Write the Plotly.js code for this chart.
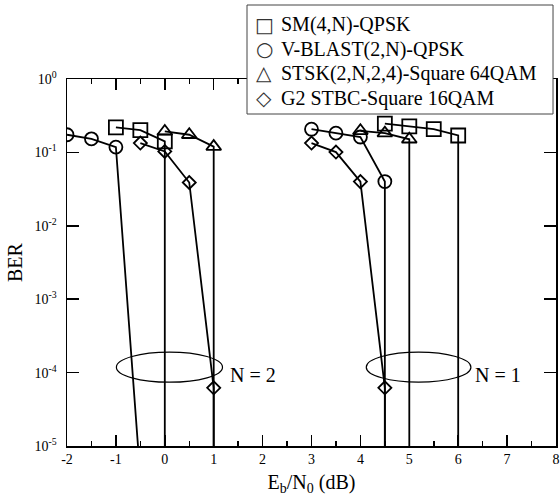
<!DOCTYPE html>
<html>
<head>
<meta charset="utf-8">
<script src="https://cdn.plot.ly/plotly-3.0.1.min.js"></script>
<style>html,body{margin:0;padding:0;background:#fff;}#chart{width:560px;height:500px;}</style>
</head>
<body>
<div id="chart"></div>
<script>
// Series names
const seriesNames = ['SM(4,N)-QPSK', 'V-BLAST(2,N)-QPSK', 'STSK(2,N,2,4)-Square 64QAM', 'G2 STBC-Square 16QAM'];
const legendGlyphs = ['\u25A1', '\u25CB', '\u25B3', '\u25C7'];

// N = 2 group
const smN2X = [-1, -0.5, 0, 0];
const smN2Y = [0.219, 0.201, 0.141, 1e-6];
const blastN2X = [-2, -1.5, -1, -0.5];
const blastN2Y = [0.174, 0.153, 0.118, 3.7e-6];
const stskN2X = [0, 0.5, 1, 1];
const stskN2Y = [0.193, 0.174, 0.12, 1e-6];
const g2N2X = [-0.5, 0, 0.5, 1, 1];
const g2N2Y = [0.134, 0.103, 0.0389, 6.2e-5, 1e-6];

// N = 1 group
const smN1X = [4.5, 5, 5.5, 6, 6];
const smN1Y = [0.246, 0.226, 0.207, 0.17, 1e-6];
const blastN1X = [3, 3.5, 4, 4.5, 4.5];
const blastN1Y = [0.207, 0.183, 0.162, 0.0401, 1e-6];
const stskN1X = [4, 4.5, 5, 5];
const stskN1Y = [0.197, 0.183, 0.151, 1e-6];
const g2N1X = [3, 3.5, 4, 4.5, 4.5];
const g2N1Y = [0.134, 0.101, 0.040, 6.2e-5, 1e-6];

// Ticks
const xTickVals = [-2, -1, 0, 1, 2, 3, 4, 5, 6, 7, 8];
const xTickText = ['-2', '-1', '0', '1', '2', '3', '4', '5', '6', '7', '8'];
const xMinorVals = [-1.5, -0.5, 0.5, 1.5, 2.5, 3.5, 4.5, 5.5, 6.5, 7.5];
const yTickVals = [1e-5, 1e-4, 1e-3, 1e-2, 1e-1, 1];
const yTickText = ['10<sup>-5</sup>', '10<sup>-4</sup>', '10<sup>-3</sup>', '10<sup>-2</sup>', '10<sup>-1</sup>', '10<sup>0</sup>'];

// Ellipse groups (x range, BER range) and labels
const groupLabels = ['N = 2', 'N = 1'];
const ellipseX0 = [-0.99, 4.12];
const ellipseX1 = [1.18, 6.26];
const ellipseY0 = [7.4e-5, 7.4e-5];
const ellipseY1 = [1.9e-4, 1.9e-4];
const labelX = [1.29, 6.30];
const labelY = [9.3e-5, 9.3e-5];

const FONT = '"Liberation Serif", "Times New Roman", Times, serif';
const symbols = ['square-open', 'circle-open', 'triangle-up-open', 'diamond-open'];
const sizes = [14, 13, 13, 10];

function curve(x, y, k) {
  return {
    x: x, y: y, type: 'scatter', mode: 'lines+markers', showlegend: false, name: seriesNames[k],
    line: {color: '#000', width: 1.8},
    marker: {symbol: symbols[k], size: sizes[k], color: '#000', line: {width: 1.8, color: '#000'}},
    cliponaxis: true
  };
}

const data = [
  curve(smN2X, smN2Y, 0), curve(blastN2X, blastN2Y, 1), curve(stskN2X, stskN2Y, 2), curve(g2N2X, g2N2Y, 3),
  curve(smN1X, smN1Y, 0), curve(blastN1X, blastN1Y, 1), curve(stskN1X, stskN1Y, 2), curve(g2N1X, g2N1Y, 3)
];

const shapes = groupLabels.map(function(_, i) {
  return {type: 'circle', xref: 'x', yref: 'y', x0: ellipseX0[i], x1: ellipseX1[i], y0: ellipseY0[i], y1: ellipseY1[i],
          line: {color: '#000', width: 1.2}};
});
// legend box
shapes.push({type: 'rect', xref: 'paper', yref: 'paper', x0: 0.3681, x1: 0.9939, y0: 0.9046, y1: 1.2016,
             fillcolor: '#fff', line: {color: '#444', width: 1}, layer: 'above'});

const annotations = groupLabels.map(function(t, i) {
  return {text: t, xref: 'x', yref: 'y', x: labelX[i], y: Math.log10(labelY[i]), xanchor: 'left', yanchor: 'middle',
          showarrow: false, font: {family: FONT, size: 20, color: '#000'}};
});
const legendRowY = [1.1476, 1.0815, 1.0161, 0.948];
seriesNames.forEach(function(name, k) {
  annotations.push({text: legendGlyphs[k], xref: 'paper', yref: 'paper', x: 0.4029, y: legendRowY[k],
                    xanchor: 'center', yanchor: 'middle', showarrow: false,
                    font: {family: '"DejaVu Sans", sans-serif', size: 20, color: '#333'}});
  annotations.push({text: name, xref: 'paper', yref: 'paper', x: 0.434, y: legendRowY[k],
                    xanchor: 'left', yanchor: 'middle', showarrow: false,
                    font: {family: FONT, size: 20, color: '#000'}});
});

const axisCommon = {
  showline: true, linecolor: '#000', linewidth: 1.5, mirror: 'ticks', showgrid: false, zeroline: false,
  ticks: 'inside', tickcolor: '#000', tickwidth: 1.5, tickfont: {family: FONT, size: 14, color: '#000'}
};

const layout = {
  width: 560, height: 500,
  margin: {l: 67, r: 4, t: 79, b: 54},
  paper_bgcolor: '#fff', plot_bgcolor: '#fff',
  font: {family: FONT, color: '#000'},
  showlegend: false,
  xaxis: Object.assign({}, axisCommon, {
    range: [-2, 8], tickmode: 'array', tickvals: xTickVals, ticktext: xTickText, ticklen: 11,
    minor: {tickmode: 'array', tickvals: xMinorVals, ticks: 'inside', ticklen: 5, tickcolor: '#000', tickwidth: 1.5, showgrid: false},
    title: {text: 'E<sub>b</sub>/N<sub>0</sub> (dB)', font: {family: FONT, size: 20, color: '#000'}, standoff: 8}
  }),
  yaxis: Object.assign({}, axisCommon, {
    type: 'log', range: [-5, 0], tickmode: 'array', tickvals: yTickVals, ticktext: yTickText, ticklen: 12,
    ticklabelstandoff: 6,
    title: {text: 'BER', font: {family: FONT, size: 20, color: '#000'}, standoff: 6}
  }),
  shapes: shapes,
  annotations: annotations
};

Plotly.newPlot('chart', data, layout, {displayModeBar: false, staticPlot: true});
</script>
</body>
</html>
